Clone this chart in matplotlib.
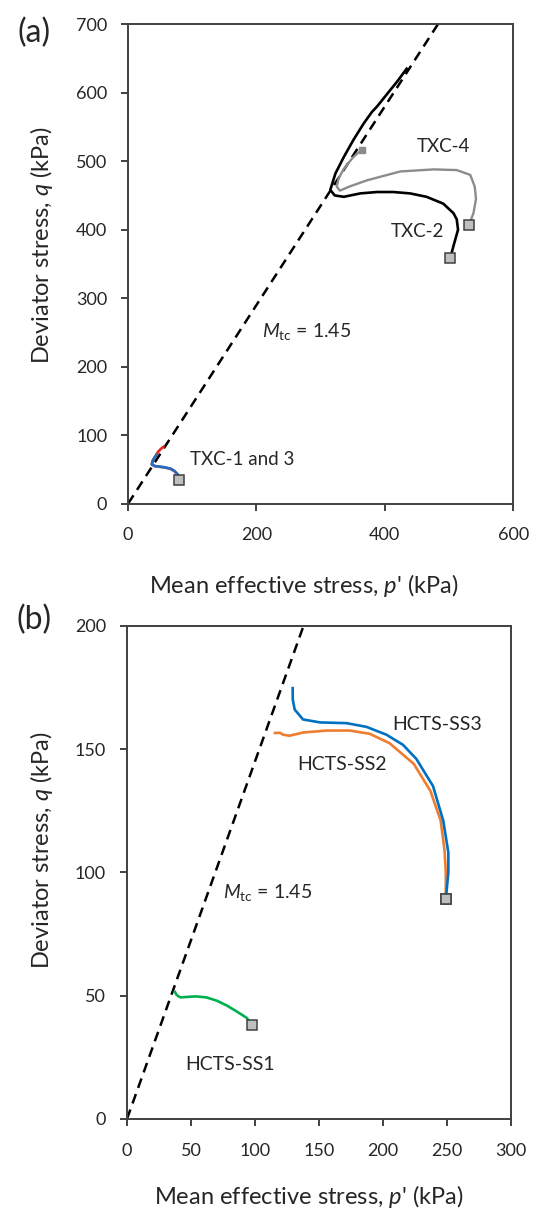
import matplotlib
matplotlib.use("Agg")
import matplotlib.pyplot as plt

plt.rcParams['font.family'] = ['Lato', 'DejaVu Sans']
plt.rcParams['mathtext.fontset'] = 'custom'
plt.rcParams['mathtext.rm'] = 'Lato'
plt.rcParams['mathtext.it'] = 'Lato:italic'

M_tc = 1.45

# panel (a) - triaxial tests, p' and q in kPa
txc2_p = [502, 508, 514, 512, 507, 491, 465, 439, 413, 388, 362, 336, 322, 315, 323, 336, 351, 367, 380, 388, 406, 419, 434]
txc2_q = [359, 380, 400, 415, 424, 438, 448, 453, 455, 455, 453, 448, 450, 458, 482, 506, 531, 555, 572, 580, 601, 616, 635]

txc4_p = [531, 538, 542, 540, 533, 512, 476, 424, 372, 345, 330, 325, 328, 335, 343, 351, 364]
txc4_q = [407, 424, 445, 463, 480, 487, 488, 485, 472, 463, 457, 463, 475, 487, 497, 506, 517]

txc1_p = [79, 78, 73, 67, 58, 50, 42, 37, 38, 41, 44]
txc1_q = [36, 42, 47, 51, 53, 54, 55, 57, 62, 67, 71]

txc3_p = [79, 77, 72, 66, 57, 49, 41, 37, 39, 43, 47, 51, 55]
txc3_q = [36, 43, 48, 51, 53, 54, 55, 58, 64, 70, 76, 80, 83]

# panel (b) - hollow cylinder tests
ss1_p = [98, 93.5, 86, 78, 70, 62, 54, 47, 42, 40, 38.5, 37.5]
ss1_q = [38, 41, 43.5, 46, 48, 49.3, 49.7, 49.5, 49.3, 49.8, 50.5, 51.5]

ss2_p = [249, 249, 248, 245, 237, 224, 205, 189.5, 174, 156, 137.5, 127, 122, 119.5, 115.6]
ss2_q = [89, 100, 109, 121, 133, 144, 152.4, 156.2, 157.5, 157.5, 156.7, 155.4, 155.8, 156.6, 156.5]

ss3_p = [249, 251, 251, 247, 239, 226, 215.6, 202.7, 187, 171.6, 150.8, 137.5, 131, 129.5, 129.4]
ss3_q = [89, 100, 108, 121, 135, 146, 151.7, 155.8, 159, 160.5, 160.8, 162, 166, 170, 174.7]

tick_col = '#404040'
txt_col = '#262626'

fig = plt.figure(figsize=(5.38, 12.08), dpi=100)
ax1 = fig.add_axes([0.238, 0.583, 0.716, 0.397])
ax2 = fig.add_axes([0.236, 0.0737, 0.714, 0.4083])


def style(ax):
    for s in ax.spines.values():
        s.set_color(tick_col)
        s.set_linewidth(1.4)
    ax.tick_params(direction='out', length=5, width=1.4, color=tick_col,
                   labelcolor=txt_col, labelsize=13)
    ax.tick_params(axis='y', pad=10)
    ax.tick_params(axis='x', pad=12)


# (a)
ax1.plot([0, 700 / M_tc], [0, 700], color='black', lw=1.8, dashes=(4, 2.6))
ax1.plot(txc4_p, txc4_q, color='#8c8c8c', lw=1.7)
ax1.plot(txc2_p, txc2_q, color='black', lw=1.9)
ax1.plot(txc3_p, txc3_q, color='#e0261c', lw=1.9)
ax1.plot(txc1_p, txc1_q, color='#1f6fc4', lw=1.9)
ax1.plot(txc4_p[-1], txc4_q[-1], 's', color='#8c8c8c', ms=4)
for p0, q0 in [(txc2_p[0], txc2_q[0]), (txc4_p[0], txc4_q[0]), (txc1_p[0], txc1_q[0] - 2)]:
    ax1.plot(p0, q0, 's', mfc='#bfbfbf', mec='#404040', ms=6.5, mew=1.1)
ax1.set_xlim(0, 600)
ax1.set_ylim(0, 700)
ax1.set_xticks([0, 200, 400, 600])
ax1.set_yticks(range(0, 701, 100))
ax1.text(491, 521, 'TXC-4', fontsize=13.5, ha='center', va='center', color=txt_col)
ax1.text(450, 398, 'TXC-2', fontsize=13.5, ha='center', va='center', color=txt_col)
ax1.text(97, 64, 'TXC-1 and 3', fontsize=13.5, ha='left', va='center', color=txt_col)
ax1.text(208, 251, r'$M_{\mathrm{tc}}$ = 1.45', fontsize=14, ha='left', va='center', color=txt_col)
ax1.set_xlabel("Mean effective stress, $p$' (kPa)", fontsize=17, color=txt_col)
ax1.set_ylabel('Deviator stress, $q$ (kPa)', fontsize=17, color=txt_col)
ax1.xaxis.set_label_coords(0.455, -0.142)
ax1.yaxis.set_label_coords(-0.19, 0.54)
style(ax1)

# (b)
ax2.plot([0, 200 / M_tc], [0, 200], color='black', lw=1.8, dashes=(4, 2.6))
ax2.plot(ss2_p, ss2_q, color='#ed7d31', lw=1.9)
ax2.plot(ss3_p, ss3_q, color='#0070c0', lw=1.9)
ax2.plot(ss1_p, ss1_q, color='#00b050', lw=1.9)
for p0, q0 in [(ss2_p[0], ss2_q[0]), (ss3_p[0], ss3_q[0]), (ss1_p[0], ss1_q[0])]:
    ax2.plot(p0, q0, 's', mfc='#bfbfbf', mec='#404040', ms=6.5, mew=1.1)
ax2.set_xlim(0, 300)
ax2.set_ylim(0, 200)
ax2.set_xticks(range(0, 301, 50))
ax2.set_yticks([0, 50, 100, 150, 200])
ax2.text(242, 160, 'HCTS-SS3', fontsize=14, ha='center', va='center', color=txt_col)
ax2.text(168, 143.6, 'HCTS-SS2', fontsize=14, ha='center', va='center', color=txt_col)
ax2.text(80.5, 22, 'HCTS-SS1', fontsize=14, ha='center', va='center', color=txt_col)
ax2.text(75, 91.7, r'$M_{\mathrm{tc}}$ = 1.45', fontsize=14, ha='left', va='center', color=txt_col)
ax2.set_xlabel("Mean effective stress, $p$' (kPa)", fontsize=17, color=txt_col)
ax2.set_ylabel('Deviator stress, $q$ (kPa)', fontsize=17, color=txt_col)
ax2.xaxis.set_label_coords(0.474, -0.13)
ax2.yaxis.set_label_coords(-0.1875, 0.545)
style(ax2)

fig.text(0.063, 0.973, '(a)', fontsize=23, ha='center', va='center', color=txt_col)
fig.text(0.063, 0.487, '(b)', fontsize=23, ha='center', va='center', color=txt_col)

fig.savefig('out.png', dpi=100)
